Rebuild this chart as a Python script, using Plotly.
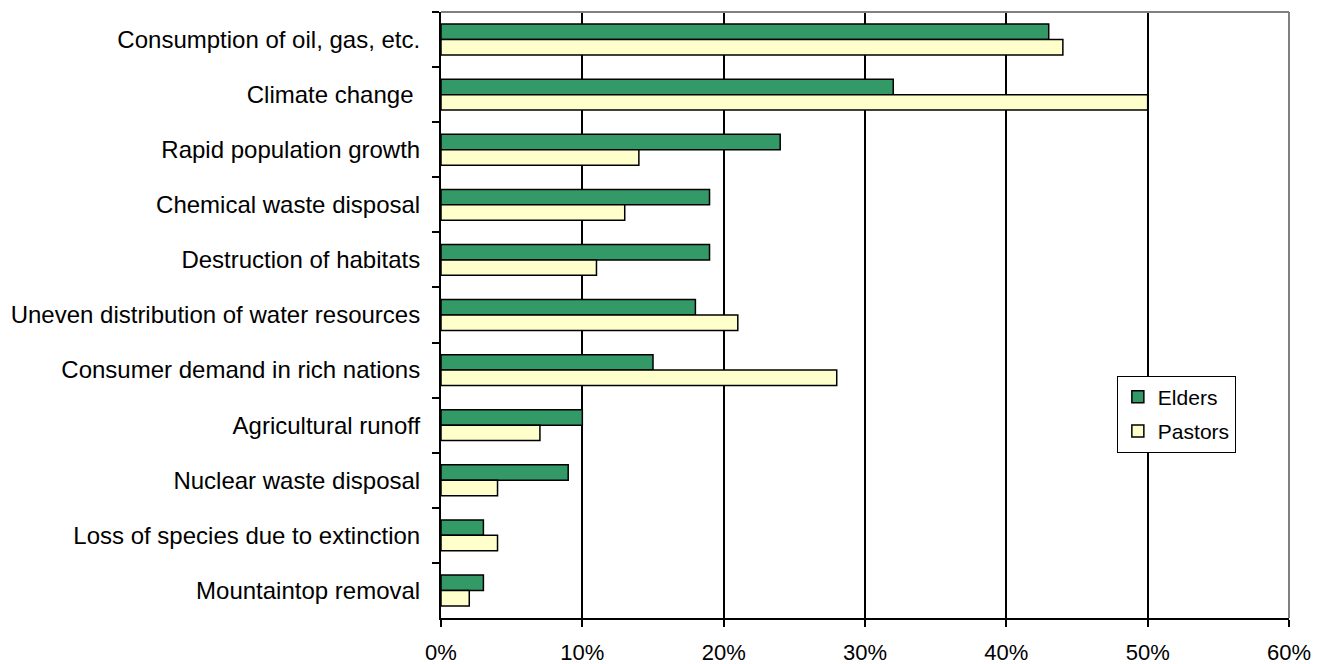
import plotly.graph_objects as go

categories = [
    "Consumption of oil, gas, etc.",
    "Climate change ",
    "Rapid population growth",
    "Chemical waste disposal",
    "Destruction of habitats",
    "Uneven distribution of water resources",
    "Consumer demand in rich nations",
    "Agricultural runoff",
    "Nuclear waste disposal",
    "Loss of species due to extinction",
    "Mountaintop removal",
]
elders = [0.43, 0.32, 0.24, 0.19, 0.19, 0.18, 0.15, 0.10, 0.09, 0.03, 0.03]
pastors = [0.44, 0.50, 0.14, 0.13, 0.11, 0.21, 0.28, 0.07, 0.04, 0.04, 0.02]
x_ticks = [0, 0.1, 0.2, 0.3, 0.4, 0.5, 0.6]
x_tick_labels = ["0%", "10%", "20%", "30%", "40%", "50%", "60%"]

FONT = "Liberation Sans, Arial, sans-serif"

fig = go.Figure()
fig.add_trace(go.Bar(
    y=categories, x=elders, name="Elders", orientation="h", legendgroup="e",
    marker=dict(color="#339966", line=dict(color="black", width=1.5)),
))
fig.add_trace(go.Bar(
    y=categories, x=pastors, name="Pastors", orientation="h", legendgroup="p",
    marker=dict(color="#FFFFCC", line=dict(color="black", width=1.5)),
))

fig.update_layout(
    width=1325, height=664,
    margin=dict(l=441, r=36, t=12, b=46),
    paper_bgcolor="white", plot_bgcolor="white",
    barmode="group", bargap=0.44, bargroupgap=0,
    font=dict(family=FONT, size=22, color="black"),
    showlegend=True,
    legend=dict(
        x=0.797, y=0.40, xanchor="left", yanchor="top",
        bgcolor="white", bordercolor="black", borderwidth=1,
        font=dict(size=21), tracegroupgap=4, itemwidth=30,
    ),
)
fig.update_xaxes(
    range=[0, 0.6], tickvals=x_ticks, ticktext=x_tick_labels,
    showgrid=True, gridcolor="black", gridwidth=1.5,
    showline=True, linecolor="black", linewidth=2,
    ticks="outside", ticklen=7, tickwidth=2, tickcolor="black",
    ticklabelstandoff=7, zeroline=False, fixedrange=True, automargin=False,
    tickfont=dict(size=22),
)
fig.update_yaxes(
    autorange="reversed", type="category",
    showgrid=False, showline=True, linecolor="black", linewidth=2,
    ticks="outside", tickson="boundaries", ticklen=7, tickwidth=2, tickcolor="black",
    ticklabelstandoff=14, fixedrange=True, automargin=False,
    tickfont=dict(size=24),
)
fig.add_shape(type="line", xref="paper", yref="paper", x0=0, x1=1, y0=1, y1=1,
              line=dict(color="#808080", width=2))
fig.add_shape(type="line", xref="paper", yref="paper", x0=1, x1=1, y0=0, y1=1,
              line=dict(color="#808080", width=2))

fig.write_html("out.html")
